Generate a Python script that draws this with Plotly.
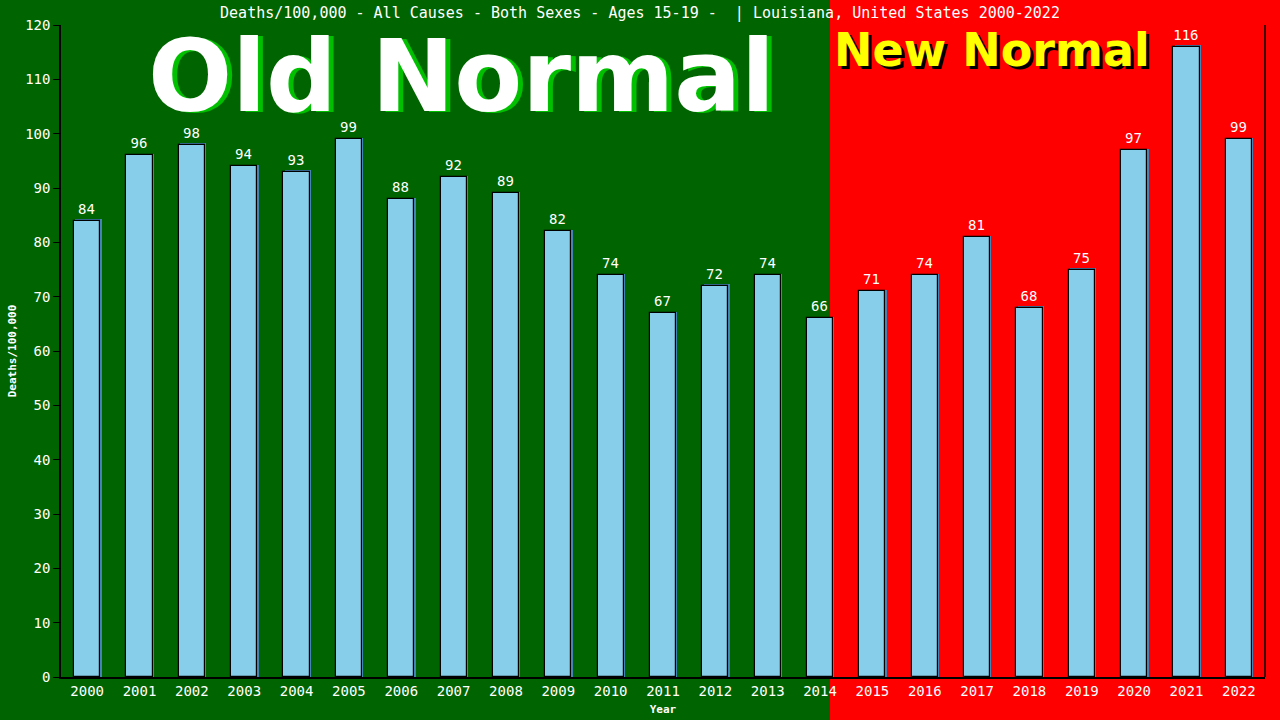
import plotly.graph_objects as go

years = list(range(2000, 2023))
deaths = [84, 96, 98, 94, 93, 99, 88, 92, 89, 82, 74, 67, 72, 74, 66,
          71, 74, 81, 68, 75, 97, 116, 99]
y_ticks = list(range(0, 121, 10))

TITLE = "Deaths/100,000 - All Causes - Both Sexes - Ages 15-19 -  | Louisiana, United States 2000-2022"
MONO = "DejaVu Sans Mono"
BIG = "DejaVu Sans"

GREEN = "#006400"
RED = "#FF0000"
SKY = "#87CEEB"

L, R, T, B = 61, 15, 25, 43
PW, PH = 1280 - L - R, 720 - T - B

fig = go.Figure()

# shadow de barras (borde azul arriba/derecha)
fig.add_trace(go.Bar(
    x=[y + 0.025 for y in years], y=[v + 0.25 for v in deaths], width=0.5,
    marker=dict(color="#4682B4", line=dict(width=0)),
    hoverinfo="skip", showlegend=False,
))
fig.add_trace(go.Bar(
    x=years, y=deaths, width=0.5,
    marker=dict(color=SKY, line=dict(color="black", width=1.2)),
    text=[str(v) for v in deaths], textposition="outside",
    textfont=dict(color="white", family=MONO, size=14),
    cliponaxis=False, showlegend=False,
))


def px_x(p):
    return (p - L) / PW


def px_y(p):
    return (720 - B - p) / PH


# fondo rojo "New Normal"
fig.add_shape(type="rect", xref="paper", yref="paper",
              x0=px_x(830), x1=px_x(1285), y0=px_y(725), y1=px_y(-5),
              fillcolor=RED, line=dict(width=0), layer="below")


def big_text(text, cx, cy, size, color):
    fig.add_annotation(text=text, xref="paper", yref="paper",
                       x=px_x(cx), y=px_y(cy), xanchor="center", yanchor="middle",
                       showarrow=False,
                       font=dict(family=BIG, size=size, color=color))


# textos grandes
big_text("<b>Old Normal</b>", 466, 78, 99, "#00C000")
big_text("<b>Old Normal</b>", 461, 76, 99, "white")
big_text("<b>New Normal</b>", 995, 53, 46, "black")
big_text("<b>New Normal</b>", 992, 50, 46, "yellow")

fig.update_layout(
    width=1280, height=720,
    margin=dict(l=L, r=R, t=T, b=B),
    paper_bgcolor=GREEN, plot_bgcolor="rgba(0,0,0,0)",
    barmode="overlay", bargap=0,
    title=dict(text=TITLE, x=0.5, xanchor="center", y=0.982, yanchor="middle",
               font=dict(family=MONO, size=15, color="white")),
    font=dict(family=MONO, color="white"),
)
fig.update_xaxes(
    range=[1999.5, 2022.5], tickvals=years, ticktext=[str(y) for y in years],
    tickfont=dict(family=MONO, size=14, color="white"),
    showgrid=False, zeroline=False, showline=True, linecolor="black",
    linewidth=1.5, mirror=False, ticks="", automargin=False,
    title=dict(text="<b>Year</b>", font=dict(family=MONO, size=11, color="white"),
               standoff=8),
)
fig.update_yaxes(
    range=[0, 120], tickvals=y_ticks,
    tickfont=dict(family=MONO, size=14, color="white"),
    showgrid=False, zeroline=False, showline=True, linecolor="black",
    linewidth=1.5, ticks="outside", ticklen=6, tickcolor="black", automargin=False,
    title=dict(text="<b>Deaths/100,000</b>", font=dict(family=MONO, size=11, color="white"),
               standoff=6),
)
# borde derecho
fig.add_shape(type="line", xref="paper", yref="paper", x0=1, x1=1, y0=0, y1=1,
              line=dict(color="black", width=1.5))

fig.write_html("out.html", config={"displayModeBar": False},
               post_script="document.body.style.margin='0';")
